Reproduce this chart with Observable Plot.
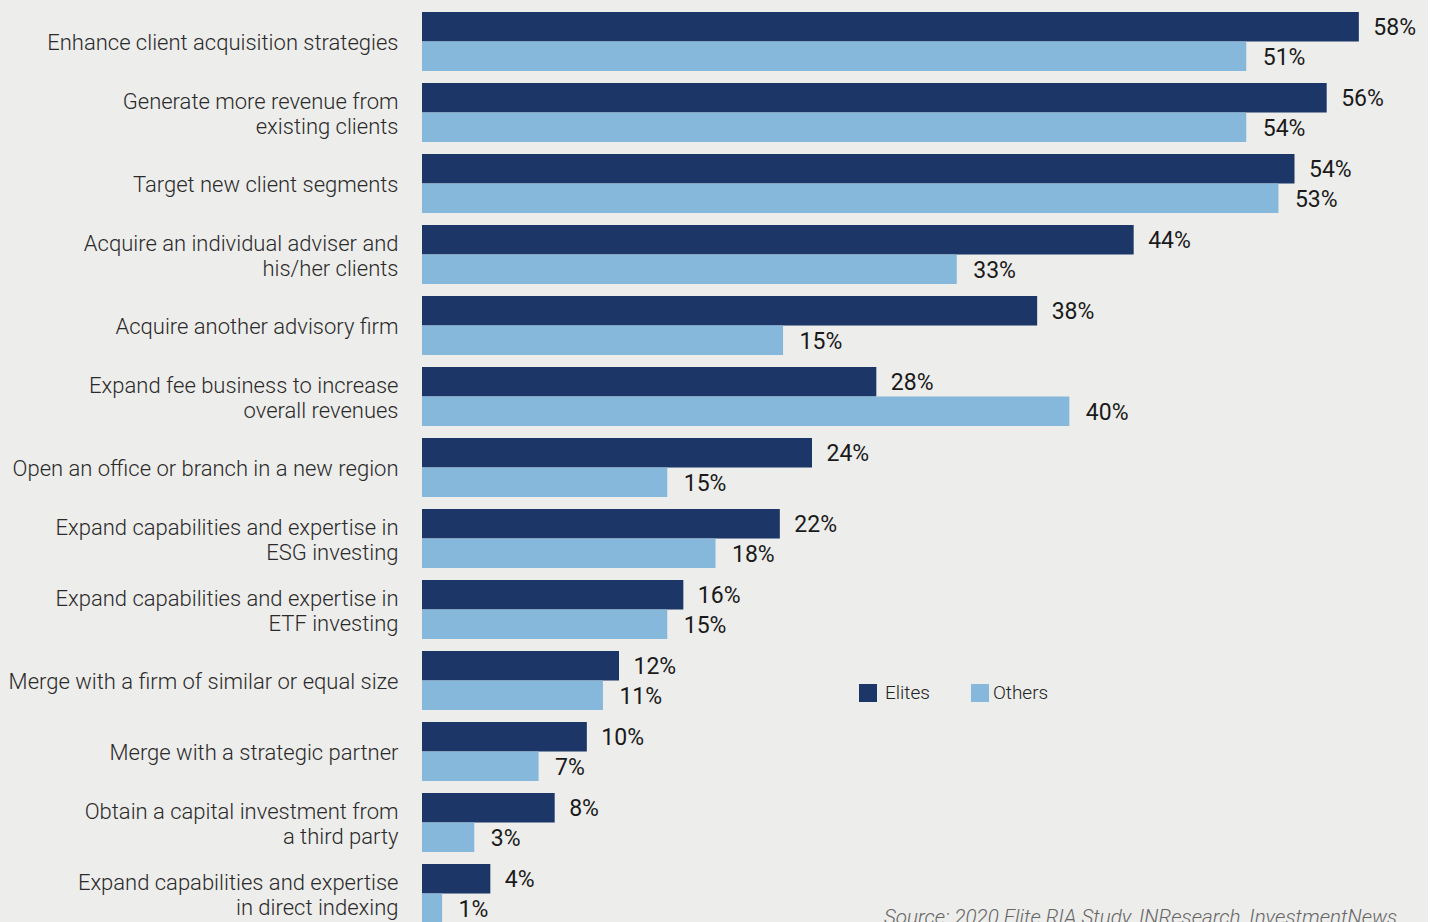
<!DOCTYPE html>
<html>
<head>
<meta charset="utf-8">
<script src="https://cdn.jsdelivr.net/npm/d3@7"></script>
<script src="https://cdn.jsdelivr.net/npm/@observablehq/plot@0.6"></script>
<style>
  html, body { margin: 0; padding: 0; background: #ffffff; overflow: hidden; }
  #wrap { position: relative; width: 1428px; height: 922px; background: #ededeb; overflow: hidden; font-family: Roboto, sans-serif; }
  #chart svg { display: block; overflow: visible; }
  #legend { position: absolute; left: 859px; top: 681px; display: flex; align-items: center; font-family: Roboto, sans-serif; font-weight: 300; font-size: 19px; color: #222; }
  #legend .sw { width: 18px; height: 18px; display: inline-block; }
  #legend .item { display: flex; align-items: center; }
  #source { position: absolute; left: 884px; top: 905px; font-family: Roboto, sans-serif; font-style: italic; font-weight: 300; font-size: 20.6px; color: #666; white-space: nowrap; }
</style>
</head>
<body>
<div id="wrap">
  <div id="chart"></div>
  <div id="legend"></div>
  <div id="source"></div>
</div>
<script>
const categories = [
  "Enhance client acquisition strategies",
  "Generate more revenue from\nexisting clients",
  "Target new client segments",
  "Acquire an individual adviser and\nhis/her clients",
  "Acquire another advisory firm",
  "Expand fee business to increase\noverall revenues",
  "Open an office or branch in a new region",
  "Expand capabilities and expertise in\nESG investing",
  "Expand capabilities and expertise in\nETF investing",
  "Merge with a firm of similar or equal size",
  "Merge with a strategic partner",
  "Obtain a capital investment from\na third party",
  "Expand capabilities and expertise\nin direct indexing"
];
// Labelled percentages
const elites = [58, 56, 54, 44, 38, 28, 24, 22, 16, 12, 10, 8, 4];
const others = [51, 54, 53, 33, 15, 40, 15, 18, 15, 11, 7, 3, 1];
// Bar lengths as drawn in the reference (a few differ from their labels)
const elitesBarLength = [58, 56, 54, 44, 38, 28, 24, 22, 16, 12, 10, 8, 4];
const othersBarLength = [51, 51, 53, 33, 22.2, 40, 15, 18, 15, 11, 7, 3, 1];
const seriesNames = ["Elites", "Others"];
const seriesColors = ["#1b3667", "#85b8da"];
const sourceText = "Source: 2020 Elite RIA Study, INResearch, InvestmentNews";

const eliteRows = categories.map((c, i) => ({category: c, value: elitesBarLength[i], label: elites[i] + "%"}));
const otherRows = categories.map((c, i) => ({category: c, value: othersBarLength[i], label: others[i] + "%"}));

const bandwidth = 59;
const half = bandwidth / 2;

const chart = Plot.plot({
  width: 1428,
  height: 936,
  marginLeft: 426,
  marginRight: 37,
  marginTop: 5,
  marginBottom: 6,
  style: {background: "transparent", fontFamily: "Roboto, sans-serif"},
  x: {domain: [0, 60], axis: null},
  y: {domain: categories, axis: null, paddingInner: 0.171, paddingOuter: 0.0855},
  marks: [
    Plot.barX(eliteRows, {y: "category", x: "value", fill: seriesColors[0], insetBottom: half, insetLeft: -4}),
    Plot.barX(otherRows, {y: "category", x: "value", fill: seriesColors[1], insetTop: half, insetLeft: -4}),
    Plot.text(eliteRows, {y: "category", x: "value", text: "label", textAnchor: "start", dx: 14, dy: -half / 2, fontSize: 23, fill: "#1a1a1a", fontWeight: 400}),
    Plot.text(otherRows, {y: "category", x: "value", text: "label", textAnchor: "start", dx: 16, dy: half / 2 + 1, fontSize: 23, fill: "#1a1a1a", fontWeight: 400}),
    Plot.text(categories, {y: d => d, x: 0, text: d => d, textAnchor: "end", dx: -28, dy: 0, lineHeight: 1.14, fontSize: 22, fontWeight: 300, fill: "#2a2a2a"})
  ]
});
document.getElementById("chart").appendChild(chart);

const legend = document.getElementById("legend");
const swatchGap = [8, 4];
const itemGap = [41, 0];
seriesNames.forEach((name, i) => {
  const item = document.createElement("span");
  item.className = "item";
  item.style.marginRight = itemGap[i] + "px";
  const sw = document.createElement("span");
  sw.className = "sw";
  sw.style.background = seriesColors[i];
  sw.style.marginRight = swatchGap[i] + "px";
  item.appendChild(sw);
  item.appendChild(document.createTextNode(name));
  legend.appendChild(item);
});
document.getElementById("source").textContent = sourceText;
</script>
</body>
</html>
